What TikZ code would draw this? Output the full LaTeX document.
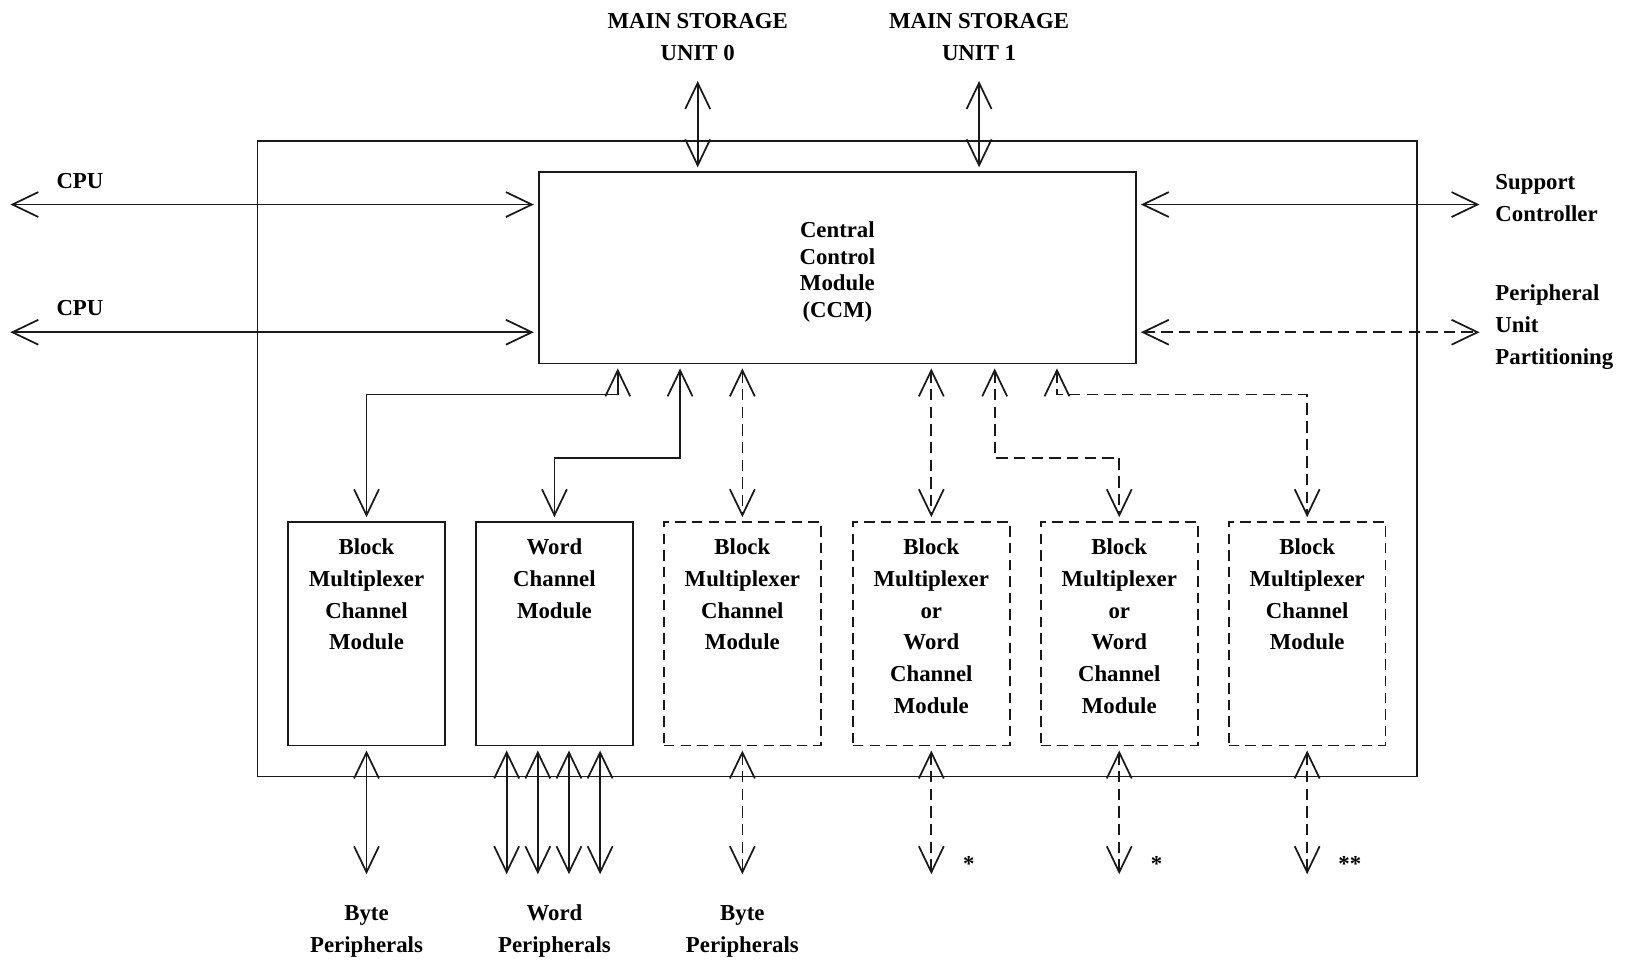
\documentclass[tikz,border=0pt]{standalone}
\usepackage{fontspec}
\setmainfont{Liberation Serif}
\usepackage{tikz}
\usetikzlibrary{arrows.meta, calc}
\colorlet{wire-color}{black!90}
\tikzset{
    >={Straight Barb[length=5mm,width=4.8mm]},
    link/.style = {<->, draw=wire-color, line width=0.95pt, shorten <=0.8mm, shorten >=0.8mm},
    optlink/.style = {link, dash pattern=on 2.2mm off 1.2mm},
    lbl/.style = {font=\bfseries\fontsize{12.5}{17.5}\selectfont, align=center, inner sep=0pt},
    ccmtxt/.style = {lbl, font=\bfseries\fontsize{12.5}{14.5}\selectfont},
    ccmbox/.style = {draw=wire-color, line width=0.95pt, minimum width=11.5cm, minimum height=3.68cm},
    modbox/.style = {draw=wire-color, line width=0.95pt, minimum width=3.02cm, minimum height=4.3cm, inner sep=0pt},
    optbox/.style = {modbox, dash pattern=on 2mm off 1.2mm},
}

\begin{document}
\begin{tikzpicture}[x=0.2mm, y=-0.2mm]
\useasboundingbox (0,0) rectangle (1568,924);

% frame and central control module
\node[draw=wire-color, line width=0.95pt, minimum width=22.34cm, minimum height=12.24cm] (frame) at (806.5,442) {};
\node[ccmbox] (ccm) at (806.5,258) {};
\node[ccmtxt] (ccm-txt) at ([yshift=-0.8mm]ccm.center) {Central\\Control\\Module\\(CCM)};

% storage units
\node[lbl] (ms0) at (672,36) {MAIN STORAGE\\UNIT 0};
\node[lbl] (ms1) at (943,36) {MAIN STORAGE\\UNIT 1};
\coordinate (ms0-end) at (672,74);
\coordinate (ms1-end) at (943,74);
\draw[link] (ms0-end) -- (ms0-end |- ccm.north);
\draw[link] (ms1-end) -- (ms1-end |- ccm.north);

% processors
\node[lbl] (cpu0) at (77,174) {CPU};
\node[lbl] (cpu1) at (77,297) {CPU};
\coordinate (cpu0-end) at (6,197);
\coordinate (cpu1-end) at (6,320);
\draw[link] (cpu0-end) -- (cpu0-end -| ccm.west);
\draw[link] (cpu1-end) -- (cpu1-end -| ccm.west);

% support side
\node[lbl, anchor=west, align=left] (sc) at (1440,191) {Support\\Controller};
\node[lbl, anchor=west, align=left] (pup) at (1440,315) {Peripheral\\Unit\\Partitioning};
\coordinate (sc-end) at (1429,197);
\coordinate (pup-end) at (1429,320);
\draw[link] (ccm.east |- sc-end) -- (sc-end);
\draw[optlink] (ccm.east |- pup-end) -- (pup-end);

% channel modules
\node[modbox] (bmc1) at (353,610.5) {};
\node[modbox] (wcm)  at (534,610.5) {};
\node[optbox] (bmc2) at (715,610.5) {};
\node[optbox] (bwc1) at (897,610.5) {};
\node[optbox] (bwc2) at (1078,610.5) {};
\node[optbox] (bmc3) at (1259,610.5) {};

\node[lbl, anchor=north] (bmc1-txt) at ([yshift=-3.2mm]bmc1.north) {Block\\Multiplexer\\Channel\\Module};
\node[lbl, anchor=north] (wcm-txt)  at ([yshift=-3.2mm]wcm.north)  {Word\\Channel\\Module};
\node[lbl, anchor=north] (bmc2-txt) at ([yshift=-3.2mm]bmc2.north) {Block\\Multiplexer\\Channel\\Module};
\node[lbl, anchor=north] (bwc1-txt) at ([yshift=-3.2mm]bwc1.north) {Block\\Multiplexer\\or\\Word\\Channel\\Module};
\node[lbl, anchor=north] (bwc2-txt) at ([yshift=-3.2mm]bwc2.north) {Block\\Multiplexer\\or\\Word\\Channel\\Module};
\node[lbl, anchor=north] (bmc3-txt) at ([yshift=-3.2mm]bmc3.north) {Block\\Multiplexer\\Channel\\Module};

% ccm to modules
\coordinate (j1) at (595,380);
\coordinate (j2) at (655,441);
\coordinate (j5) at (958,441);
\coordinate (j6) at (1018,380);
\draw[link] (j1 |- ccm.south) -- (j1) -| (bmc1.north);
\draw[link] (j2 |- ccm.south) -- (j2) -| (wcm.north);
\draw[optlink] (bmc2.north |- ccm.south) -- (bmc2.north);
\draw[optlink] (bwc1.north |- ccm.south) -- (bwc1.north);
\draw[optlink] (j5 |- ccm.south) -- (j5) -| (bwc2.north);
\draw[optlink] (j6 |- ccm.south) -- (j6) -| (bmc3.north);

% peripherals
\coordinate (p1) at (353,846);
\coordinate (p3) at (715,846);
\coordinate (p4) at (897,846);
\coordinate (p5) at (1078,846);
\coordinate (p6) at (1259,846);
\draw[link] (bmc1.south) -- (p1);
\foreach \x in {488,518,548,578}{
    \coordinate (w\x) at (\x,846);
    \draw[link] (w\x |- wcm.south) -- (w\x);
}
\draw[optlink] (bmc2.south) -- (p3);
\draw[optlink] (bwc1.south) -- (p4);
\draw[optlink] (bwc2.south) -- (p5);
\draw[optlink] (bmc3.south) -- (p6);

\node[lbl] (st4) at (933,832) {*};
\node[lbl] (st5) at (1114,832) {*};
\node[lbl] (st6) at (1300,832) {**};

\node[lbl] (bp1) at (353,897) {Byte\\Peripherals};
\node[lbl] (wp)  at (534,897) {Word\\Peripherals};
\node[lbl] (bp2) at (715,897) {Byte\\Peripherals};

\end{tikzpicture}
\end{document}
